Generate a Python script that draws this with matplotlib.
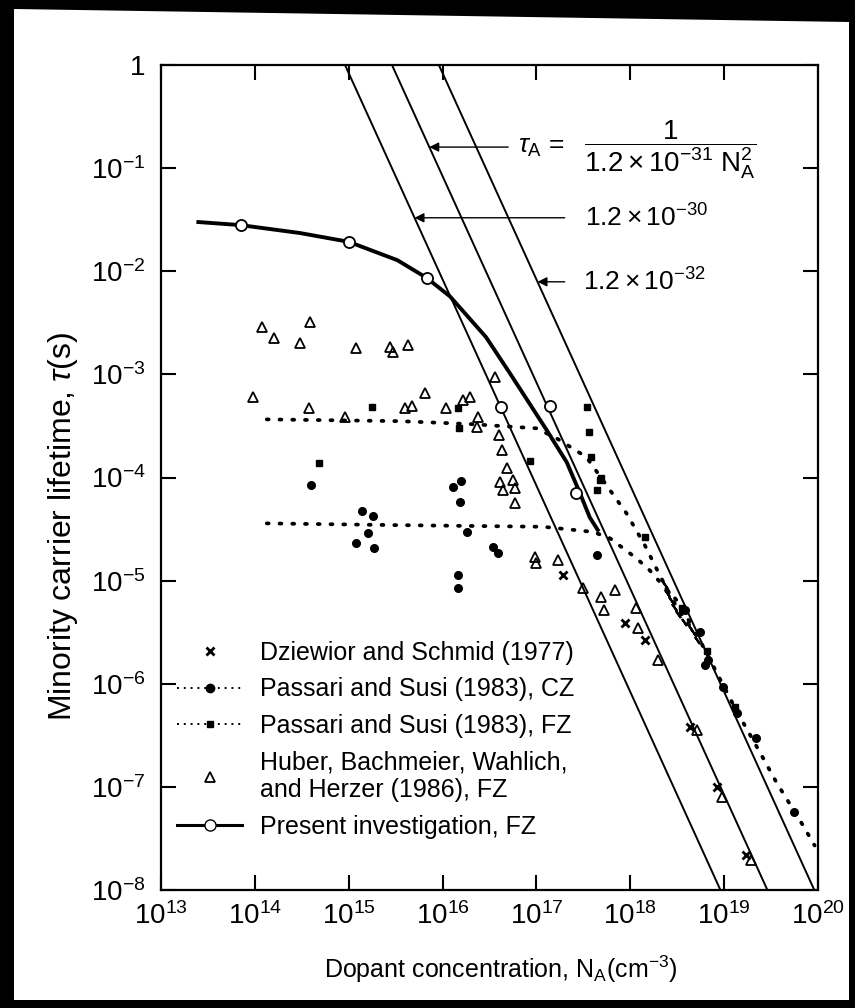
import matplotlib
matplotlib.use("Agg")
import matplotlib.pyplot as plt
from matplotlib.lines import Line2D
from matplotlib.patches import Polygon
import numpy as np

plt.rcParams["font.family"] = ["Liberation Sans", "DejaVu Sans"]
plt.rcParams["mathtext.fontset"] = "custom"
plt.rcParams["mathtext.rm"] = "Liberation Sans"
plt.rcParams["mathtext.it"] = "Liberation Sans:italic"
plt.rcParams["mathtext.bf"] = "Liberation Sans:bold"

# Auger limit lines tau = 1/(C N^2), end points at tau = 1 and tau = 1e-8
auger_labels = ["1.2e-30", "1.2e-31", "1.2e-32"]
auger_n_top = [9.13e14, 2.89e15, 9.13e15]
auger_n_bottom = [9.13e18, 2.89e19, 9.13e19]
auger_tau_ends = [1.0, 1e-8]

# Present investigation, FZ: fitted curve and measured points
present_fit_n = [2.5e13, 7.1e13, 3.0e14, 1.0e15, 3.3e15, 6.8e15, 1.2e16, 2.9e16,
                 5.2e16, 1.28e17, 2.1e17, 2.9e17, 3.7e17, 4.5e17]
present_fit_tau = [3.0e-2, 2.8e-2, 2.35e-2, 1.93e-2, 1.28e-2, 8.6e-3, 5.7e-3, 2.3e-3,
                   1.03e-3, 2.9e-4, 1.41e-4, 7.1e-5, 4.1e-5, 3.1e-5]
present_n = [7.1e13, 1.0e15, 6.8e15, 4.15e16, 1.41e17, 2.67e17]
present_tau = [2.8e-2, 1.93e-2, 8.6e-3, 4.85e-4, 4.9e-4, 7.0e-5]

# Passari and Susi (1983) fit curves
fz_fit_n = [1.34e14, 3.5e15, 1.95e16, 1.0e17, 1.64e17, 3.4e17, 6.3e17, 9.1e17, 1.43e18,
            2.06e18, 3.1e18, 5.5e18, 1.35e19, 2.4e19, 3.6e19, 6.9e19, 9.2e19]
fz_fit_tau = [3.66e-4, 3.52e-4, 3.3e-4, 3.0e-4, 2.4e-4, 1.58e-4, 7.2e-5, 4.5e-5, 2.2e-5,
              1.13e-5, 5.6e-6, 2.65e-6, 5.5e-7, 2.17e-7, 1.11e-7, 4.25e-8, 2.7e-8]
cz_fit_n = [1.34e14, 3.5e15, 1.17e17, 4.0e17, 6.05e17, 1.16e18, 1.61e18, 2.22e18,
            3.1e18, 4.3e18]
cz_fit_tau = [3.59e-5, 3.45e-5, 3.33e-5, 2.97e-5, 2.58e-5, 1.65e-5, 1.26e-5, 9.0e-6,
              6.5e-6, 3.96e-6]

# Passari and Susi (1983), CZ points
cz_n = [4.0e14, 1.37e15, 1.81e15, 1.6e15, 1.21e15, 1.85e15, 1.29e16, 1.59e16, 1.53e16,
        1.8e16, 1.46e16, 1.46e16, 3.44e16, 3.9e16, 4.4e17, 3.8e18, 5.5e18, 6.7e18,
        6.2e18, 9.7e18, 1.36e19, 2.2e19, 5.6e19]
cz_tau = [8.4e-5, 4.75e-5, 4.2e-5, 2.9e-5, 2.33e-5, 2.07e-5, 8.1e-5, 9.2e-5, 5.8e-5,
          2.97e-5, 1.13e-5, 8.5e-6, 2.13e-5, 1.85e-5, 1.77e-5, 5.2e-6, 3.19e-6, 1.69e-6,
          1.51e-6, 9.3e-7, 5.2e-7, 2.95e-7, 5.7e-8]

# Passari and Susi (1983), FZ points
fz_n = [1.75e15, 4.8e14, 1.46e16, 1.49e16, 8.6e16, 3.5e17, 3.6e17, 3.77e17, 4.7e17,
        4.4e17, 4.9e17, 1.43e18, 6.5e18, 1.3e19, 3.6e18]
fz_tau = [4.85e-4, 1.38e-4, 4.7e-4, 3.0e-4, 1.45e-4, 4.85e-4, 2.77e-4, 1.59e-4, 9.4e-5,
          7.5e-5, 1.0e-4, 2.66e-5, 2.1e-6, 5.9e-7, 5.4e-6]

# dense Passari measurements drawn as short strokes
stroke_n = [2.33e18, 2.45e18, 2.7e18, 2.9e18, 3.2e18, 3.7e18, 4.2e18, 4.7e18, 5.2e18]
stroke_tau = [9.0e-6, 7.6e-6, 6.5e-6, 5.5e-6, 4.7e-6, 3.95e-6, 3.6e-6, 3.16e-6, 2.65e-6]

# Dziewior and Schmid (1977)
dz_n = [1.91e17, 8.8e17, 1.43e18, 4.3e18, 8.3e18, 1.73e19]
dz_tau = [1.13e-5, 3.85e-6, 2.65e-6, 3.8e-7, 1.0e-7, 2.18e-8]

# Huber, Bachmeier, Wahlich, and Herzer (1986), FZ
hb_n = [1.18e14, 1.6e14, 3.86e14, 3.0e14, 1.19e15, 2.75e15, 2.96e15, 4.27e15, 9.5e13,
        3.77e14, 9.1e14, 3.96e15, 4.67e15, 6.5e15, 1.1e16, 1.65e16, 1.95e16, 2.38e16,
        2.3e16, 3.6e16, 4.0e16, 4.25e16, 4.8e16, 4.07e16, 4.39e16, 5.6e16, 5.9e16,
        5.9e16, 9.6e16, 1.0e17, 1.69e17, 3.1e17, 4.9e17, 6.8e17, 5.3e17, 1.16e18,
        1.2e18, 1.96e18, 5.1e18, 9.4e18, 1.95e19]
hb_tau = [2.9e-3, 2.25e-3, 3.24e-3, 2.0e-3, 1.8e-3, 1.85e-3, 1.66e-3, 1.92e-3, 6.1e-4,
          4.7e-4, 3.88e-4, 4.7e-4, 4.9e-4, 6.6e-4, 4.7e-4, 5.6e-4, 6.1e-4, 3.88e-4,
          3.1e-4, 9.5e-4, 2.58e-4, 1.84e-4, 1.23e-4, 9.1e-5, 7.5e-5, 9.4e-5, 7.9e-5,
          5.7e-5, 1.7e-5, 1.48e-5, 1.58e-5, 8.5e-6, 7.0e-6, 8.1e-6, 5.2e-6, 5.4e-6,
          3.46e-6, 1.69e-6, 3.55e-7, 8.0e-8, 1.95e-8]

# annotation arrows: tau level of each arrow and N where it starts
arrow_tau = [0.16, 0.033, 7.9e-3]
arrow_coef = [1.2e-31, 1.2e-30, 1.2e-32]
arrow_start_n = [5.0e16, 2.0e17, 2.0e17]

x_ticks = [1e13, 1e14, 1e15, 1e16, 1e17, 1e18, 1e19, 1e20]
x_ticklabels = ["$10^{13}$", "$10^{14}$", "$10^{15}$", "$10^{16}$", "$10^{17}$",
                "$10^{18}$", "$10^{19}$", "$10^{20}$"]
y_ticks = [1, 1e-1, 1e-2, 1e-3, 1e-4, 1e-5, 1e-6, 1e-7, 1e-8]
y_ticklabels = ["1", "$10^{-1}$", "$10^{-2}$", "$10^{-3}$", "$10^{-4}$", "$10^{-5}$",
                "$10^{-6}$", "$10^{-7}$", "$10^{-8}$"]

W, H = 855, 1008
fig = plt.figure(figsize=(W / 100, H / 100), dpi=100)
fig.patch.set_facecolor("black")
# white paper inside the dark scan border
paper = Polygon([(14 / W, 1 - 1000 / H), (849 / W, 1 - 1000 / H),
                 (849 / W, 1 - 22 / H), (14 / W, 1 - 9 / H)],
                closed=True, transform=fig.transFigure, facecolor="white",
                edgecolor="none", zorder=-5)
fig.add_artist(paper)

ax = fig.add_axes([161 / W, 1 - 890 / H, (818 - 161) / W, (890 - 65) / H])
ax.set_xscale("log")
ax.set_yscale("log")
ax.set_xlim(1e13, 1e20)
ax.set_ylim(1e-8, 1)

# Auger lines
for n0, n1 in zip(auger_n_top, auger_n_bottom):
    ax.plot([n0, n1], auger_tau_ends, color="black", lw=1.4, zorder=2)

dot_style = dict(color="black", lw=2.7, ls=(0, (0.5, 2.9)), dash_capstyle="round", zorder=2)
ax.plot(fz_fit_n, fz_fit_tau, **dot_style)
ax.plot(cz_fit_n, cz_fit_tau, **dot_style)

ax.plot(present_fit_n, present_fit_tau, color="black", lw=2.8, zorder=3)
ax.plot(present_n, present_tau, ls="none", marker="o", ms=8, mfc="white",
        mec="black", mew=1.3, zorder=4)

ax.plot(cz_n, cz_tau, ls="none", marker="o", ms=5.5, color="black", zorder=4)
ax.plot(fz_n, fz_tau, ls="none", marker="s", ms=5, color="black", zorder=4)
ax.plot(stroke_n, stroke_tau, ls="none", marker=(2, 2, 35), ms=6, mew=1.6,
        color="black", zorder=4)
ax.plot(dz_n, dz_tau, ls="none", marker="x", ms=6, mew=2.0, color="black", zorder=4)
ax.plot(hb_n, hb_tau, ls="none", marker="^", ms=6.5, mfc="none", mec="black",
        mew=1.3, zorder=4)

# arrows to the Auger lines
for t, c, n_start in zip(arrow_tau, arrow_coef, arrow_start_n):
    n_line = 1.0 / np.sqrt(c * t)
    ax.annotate("", xy=(n_line, t), xytext=(n_start, t),
                arrowprops=dict(arrowstyle="-|>", color="black", lw=1.0,
                                mutation_scale=14, shrinkA=0, shrinkB=0))

ax.text(6.3e16, arrow_tau[0], r"$\tau_{\rm A}$ =", fontsize=19, ha="left", va="center")
ax.text(3.2e17, arrow_tau[0] * 0.95,
        r"$\dfrac{1}{1.2\times10^{-31}\ \mathrm{N}_{\rm A}^{2}}$",
        fontsize=20, ha="left", va="center")
ax.text(3.3e17, arrow_tau[1], r"$1.2\times10^{-30}$", fontsize=19, ha="left", va="center")
ax.text(3.1e17, arrow_tau[2], r"$1.2\times10^{-32}$", fontsize=19, ha="left", va="center")

ax.set_xticks(x_ticks, x_ticklabels)
ax.set_yticks(y_ticks, y_ticklabels)
ax.minorticks_off()
ax.tick_params(which="major", direction="in", length=11, width=1.5,
               top=True, right=True, labelsize=20, pad=9)
ax.tick_params(axis="y", pad=11)
for s in ax.spines.values():
    s.set_linewidth(1.6)

ax.set_xlabel(r"Dopant concentration, N$_{\rm A}$(cm$^{-3}$)", fontsize=18)
ax.xaxis.set_label_coords(0.5175, -0.077)
ax.set_ylabel(r"Minority carrier lifetime, $\tau$(s)", fontsize=23)
ax.yaxis.set_label_coords(-0.124, 0.44)

handles = [
    Line2D([], [], ls="none", marker="x", ms=6, mew=2.0, color="black"),
    Line2D([], [], color="black", lw=1.4, ls=(0, (1, 2.5)), marker="o", ms=6),
    Line2D([], [], color="black", lw=1.4, ls=(0, (1, 2.5)), marker="s", ms=5),
    Line2D([], [], ls="none", marker="^", ms=6.5, mfc="none", mec="black", mew=1.3),
    Line2D([], [], color="black", lw=2.2, marker="o", ms=8, mfc="white", mec="black"),
]
labels = [
    "Dziewior and Schmid (1977)",
    "Passari and Susi (1983), CZ",
    "Passari and Susi (1983), FZ",
    "Huber, Bachmeier, Wahlich,\nand Herzer (1986), FZ",
    "Present investigation, FZ",
]
ax.legend(handles, labels, loc="upper left", bbox_to_anchor=(0.025, 0.302),
          frameon=False, fontsize=18, handlelength=2.6, handletextpad=0.7,
          labelspacing=0.5, borderpad=0, borderaxespad=0)

fig.savefig("out.png", dpi=100, facecolor=fig.get_facecolor())
